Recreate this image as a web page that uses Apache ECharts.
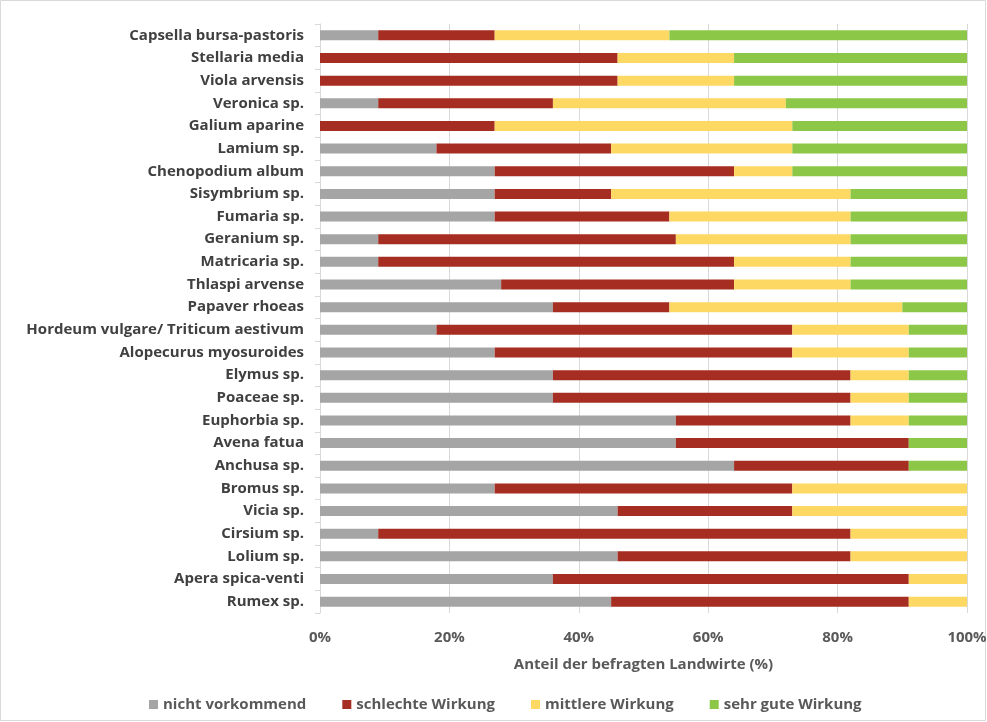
<!DOCTYPE html>
<html><head><meta charset="utf-8">
<script src="https://cdn.jsdelivr.net/npm/echarts@6/dist/echarts.min.js"></script>
<style>html,body{margin:0;padding:0;background:#fff}#c{width:987px;height:722px}</style>
</head><body><div id="c"></div>
<script>
const categories = ["Capsella bursa-pastoris","Stellaria media","Viola arvensis","Veronica sp.","Galium aparine","Lamium sp.","Chenopodium album","Sisymbrium sp.","Fumaria sp.","Geranium sp.","Matricaria sp.","Thlaspi arvense","Papaver rhoeas","Hordeum vulgare/ Triticum aestivum","Alopecurus myosuroides","Elymus sp.","Poaceae sp.","Euphorbia sp.","Avena fatua","Anchusa sp.","Bromus sp.","Vicia sp.","Cirsium sp.","Lolium sp.","Apera spica-venti","Rumex sp."];
const nichtVorkommend = [9,0,0,9,0,18,27,27,27,9,9,28,36,18,27,36,36,55,55,64,27,46,9,46,36,45];
const schlechteWirkung = [18,46,46,27,27,27,37,18,27,46,55,36,18,55,46,46,46,27,36,27,46,27,73,36,55,46];
const mittlereWirkung = [27,18,18,36,46,28,9,37,28,27,18,18,36,18,18,9,9,9,0,0,27,27,18,18,9,9];
const sehrGuteWirkung = [46,36,36,28,27,27,27,18,18,18,18,18,10,9,9,9,9,9,9,9,0,0,0,0,0,0];
const seriesNames = ["nicht vorkommend","schlechte Wirkung","mittlere Wirkung","sehr gute Wirkung"];
const colors = ["#A5A5A5","#A52D22","#FDD964","#8DC747"];
const xTicks = [0,20,40,60,80,100];

const chart = echarts.init(document.getElementById('c'));
const font = "'Open Sans', sans-serif";
const dataSets = [nichtVorkommend, schlechteWirkung, mittlereWirkung, sehrGuteWirkung];
chart.setOption({
  animation: false,
  textStyle: {fontFamily: font},
  graphic: [{type:'rect', shape:{x:0.5,y:0.5,width:985,height:720}, style:{fill:'none', stroke:'#d9d9d9', lineWidth:1}}],
  grid: {left: 320, width: 647, top: 24, height: 589, containLabel: false, outerBoundsMode: 'none'},
  legend: {
    bottom: 5, left: 144, itemWidth: 9, itemHeight: 9, itemGap: 36, icon: 'rect',
    textStyle: {fontSize: 15, color: '#595959', fontFamily: font, fontWeight: 'bold'},
    data: seriesNames
  },
  xAxis: {
    type: 'value', min: xTicks[0], max: xTicks[xTicks.length-1], interval: 20,
    axisLabel: {formatter: '{value}%', fontSize: 15, color: '#595959', fontWeight: 'bold', margin: 17},
    axisLine: {show: false}, axisTick: {show: false},
    splitLine: {lineStyle: {color: '#d9d9d9'}},
    name: 'Anteil der befragten Landwirte (%)', nameLocation: 'middle', nameGap: 44,
    nameTextStyle: {fontSize: 15, color: '#595959', fontWeight: 'bold'}
  },
  yAxis: {
    type: 'category', data: categories, inverse: true,
    axisLine: {lineStyle: {color: '#d9d9d9'}},
    axisTick: {show: true, length: 5, lineStyle: {color: '#d9d9d9'}},
    axisLabel: {fontSize: 15, color: '#404040', fontWeight: 'bold', margin: 16}
  },
  series: seriesNames.map((n, i) => ({
    name: n, type: 'bar', stack: 'all', barWidth: 10,
    itemStyle: {color: colors[i]},
    data: dataSets[i]
  }))
});
</script></body></html>
